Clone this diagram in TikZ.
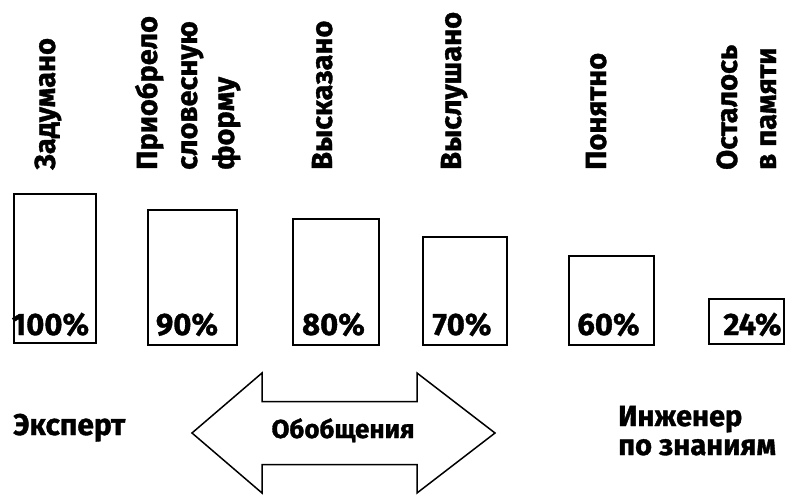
\documentclass[tikz,border=0pt]{standalone}
\usepackage{fontspec}
\setmainfont{Fira Sans}[BoldFeatures={FakeBold=1.2}]
\begin{document}
\begin{tikzpicture}[x=1pt,y=-1pt,
  bar/.style={draw=black,line width=2pt,anchor=north west,inner sep=0pt},
  pct/.style={font=\fontsize{31}{36}\selectfont\bfseries,anchor=base,inner sep=0pt},
  vlab/.style={font=\fontsize{29}{30}\selectfont\bfseries,rotate=90,anchor=base west,inner sep=0pt},
  hlab/.style={font=\fontsize{30}{34}\selectfont\bfseries,anchor=base west,inner sep=0pt}]
\useasboundingbox (0,0) rectangle (785,495);
% vertical labels
\node[vlab] (l1) at (55,170) {Задумано};
\node[vlab] (l2a) at (157,170) {Приобрело};
\node[vlab] (l2b) at (197,170) {словесную};
\node[vlab] (l2c) at (234,170) {форму};
\node[vlab] (l3) at (332,170) {Высказано};
\node[vlab] (l4) at (461,170) {Выслушано};
\node[vlab] (l5) at (606,170) {Понятно};
\node[vlab] (l6a) at (737,170) {Осталось};
\node[vlab] (l6b) at (776,170) {в памяти};
% bars
\node[bar,minimum width=82pt,minimum height=149pt] (b1) at (13,193) {};
\node[bar,minimum width=89pt,minimum height=135pt] (b2) at (147,209) {};
\node[bar,minimum width=86pt,minimum height=126pt] (b3) at (292,218) {};
\node[bar,minimum width=84pt,minimum height=108pt] (b4) at (422,236) {};
\node[bar,minimum width=85pt,minimum height=89pt] (b5) at (568,255) {};
\node[bar,minimum width=75pt,minimum height=45pt] (b6) at (708,298) {};
\node[pct] (p1) at (50.5,335) {100\%};
\node[pct] (p2) at (187,335) {90\%};
\node[pct] (p3) at (333.5,335) {80\%};
\node[pct] (p4) at (462,335) {70\%};
\node[pct] (p5) at (608.5,335) {60\%};
\node[pct] (p6) at (752.5,335) {24\%};
% bottom
\node[hlab] (ex) at (13,435) {Эксперт};
\node[hlab,font=\fontsize{29}{34}\selectfont\bfseries] (in1) at (618,426) {Инженер};
\node[hlab,font=\fontsize{29}{34}\selectfont\bfseries] (in2) at (618,455) {по знаниям};
\draw[line width=1.5pt,line join=miter] (192,433) -- (262,373) -- (262,401.5) -- (417,401.5) -- (417,373) -- (495,433)
  -- (417,493) -- (417,464.5) -- (262,464.5) -- (262,493) -- cycle;
\node[font=\fontsize{26}{28}\selectfont\bfseries,anchor=base,inner sep=0pt] (ob) at (343,438) {Обобщения};
\end{tikzpicture}
\end{document}
